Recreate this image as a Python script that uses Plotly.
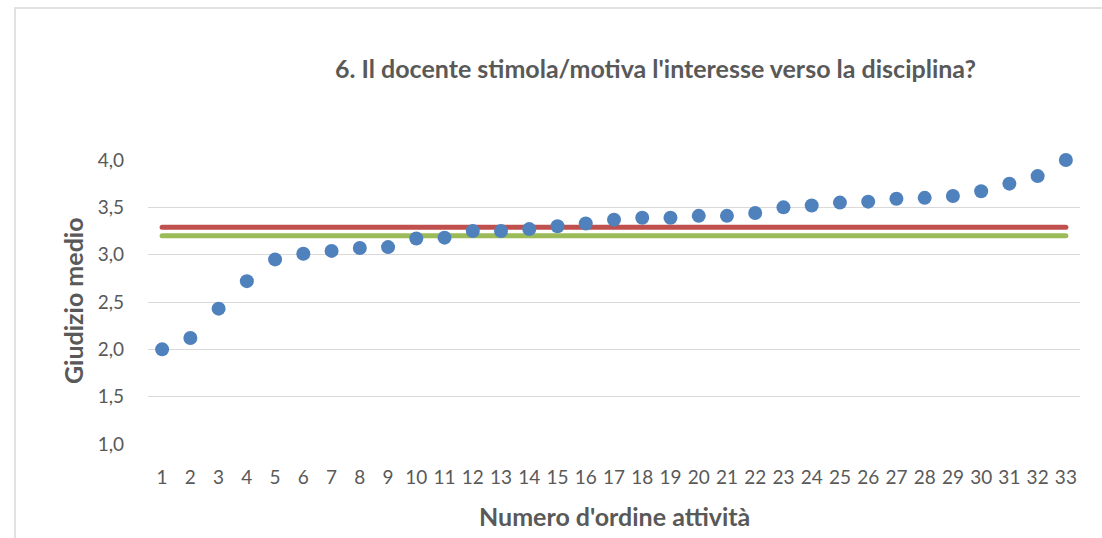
import plotly.graph_objects as go

# ---- data ----
attivita = list(range(1, 34))
giudizio_medio = [2.00, 2.12, 2.43, 2.72, 2.95, 3.01, 3.04, 3.07, 3.08, 3.17, 3.18,
                  3.25, 3.25, 3.27, 3.30, 3.33, 3.37, 3.39, 3.39, 3.41, 3.41, 3.44,
                  3.50, 3.52, 3.55, 3.56, 3.59, 3.60, 3.62, 3.67, 3.75, 3.83, 4.00]
media_rossa = [3.29] * 33
media_verde = [3.20] * 33
y_ticks = [1.0, 1.5, 2.0, 2.5, 3.0, 3.5, 4.0]

title_text = "6. Il docente stimola/motiva l'interesse verso la disciplina?"
x_title = "Numero d'ordine attività"
y_title = "Giudizio medio"

# ---- layout geometry ----
W, H = 1102, 538
L, R, T, B = 148, 1080, 160, 444
def px_x(x):
    return (x - L) / (R - L)
def px_y(y):
    return (B - y) / (B - T)

FONT = "Lato"
GRAY = "#595959"

fig = go.Figure()
fig.add_trace(go.Scatter(x=attivita, y=media_verde, mode="lines",
                         line=dict(color="#9bbb59", width=5), hoverinfo="skip",
                         cliponaxis=False))
fig.add_trace(go.Scatter(x=attivita, y=media_rossa, mode="lines",
                         line=dict(color="#c0504d", width=5), hoverinfo="skip",
                         cliponaxis=False))
fig.add_trace(go.Scatter(x=attivita, y=giudizio_medio, mode="markers",
                         marker=dict(color="#4f81bd", size=14, line=dict(width=0)),
                         cliponaxis=False))

fig.update_layout(
    width=W, height=H,
    margin=dict(l=L, r=W - R, t=T, b=H - B),
    paper_bgcolor="white", plot_bgcolor="white",
    showlegend=False,
    separators=",.",
    font=dict(family=FONT, color=GRAY, size=19),
    xaxis=dict(range=[0.5, 33.5], tickmode="array", tickvals=attivita,
               ticktext=[str(a) for a in attivita], showgrid=False, zeroline=False,
               showline=False, ticks="", ticklabelstandoff=20,
               tickfont=dict(family=FONT, size=19, color=GRAY)),
    yaxis=dict(range=[1.0, 4.0], tickmode="array", tickvals=y_ticks,
               tickformat=".1f", showgrid=True, gridcolor="#d9d9d9", gridwidth=1.3,
               zeroline=False, showline=False, ticks="", ticklabelstandoff=23,
               tickfont=dict(family=FONT, size=19, color=GRAY)),
    shapes=[dict(type="rect", xref="paper", yref="paper",
                 x0=px_x(15), x1=px_x(1120), y0=px_y(560), y1=px_y(8),
                 line=dict(color="#d9d9d9", width=1.5), fillcolor="rgba(0,0,0,0)",
                 layer="below")],
    annotations=[
        dict(text="<b>" + title_text + "</b>", xref="paper", yref="paper",
             x=px_x(655), y=px_y(68), xanchor="center", yanchor="middle",
             showarrow=False, font=dict(family=FONT, size=25, color=GRAY)),
        dict(text="<b>" + x_title + "</b>", xref="paper", yref="paper",
             x=px_x(614), y=px_y(516), xanchor="center", yanchor="middle",
             showarrow=False, font=dict(family=FONT, size=25, color=GRAY)),
        dict(text="<b>" + y_title + "</b>", xref="paper", yref="paper",
             x=px_x(73), y=px_y(301), xanchor="center", yanchor="middle",
             textangle=-90, showarrow=False, font=dict(family=FONT, size=25, color=GRAY)),
    ],
)

post = (
    "document.body.style.margin='0';"
    "document.querySelectorAll('.scatterlayer .js-line').forEach(function(p){"
    "p.style.strokeLinecap='round';});"
)
fig.write_html("out.html", post_script=post, config={"displayModeBar": False})
